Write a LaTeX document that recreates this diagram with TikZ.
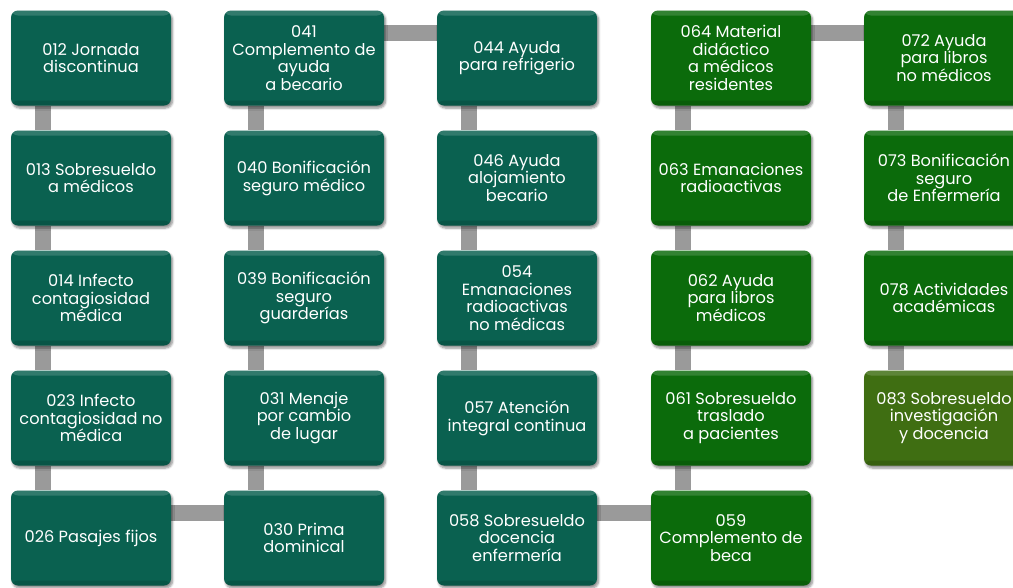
\documentclass[tikz,border=0pt]{standalone}
\usepackage{fontspec}
\setmainfont{Poppins}
\usetikzlibrary{shadows.blur,backgrounds}
\definecolor{teal1}{HTML}{0A6150}
\definecolor{green1}{HTML}{0B6B0B}
\definecolor{olive1}{HTML}{3F6E12}
\definecolor{conn1}{HTML}{9A9A9A}
\tikzset{
  box/.style={rounded corners=7pt, minimum width=160pt, minimum height=95pt,
    text=white, align=center, inner sep=1pt,
    font=\fontsize{16.2}{17.6}\selectfont,
    blur shadow={shadow xshift=1.5pt, shadow yshift=-2.5pt, shadow blur steps=6, shadow opacity=45},
    path picture={
      \fill[white, opacity=0.16] (path picture bounding box.north west) rectangle ([yshift=-5pt]path picture bounding box.north east);
      \fill[black, opacity=0.12] (path picture bounding box.south west) rectangle ([yshift=5pt]path picture bounding box.south east);
    }},
  tbox/.style={box, fill=teal1},
  gbox/.style={box, fill=green1},
  obox/.style={box, fill=olive1},
  conn/.style={draw=conn1, line width=16pt},
}
\begin{document}
\begin{tikzpicture}[x=1pt,y=-1pt]
\useasboundingbox (0,0) rectangle (1013,587);
% column 1
\node[tbox] (n012) at (91,58) {012 Jornada\\discontinua};
\node[tbox] (n013) at (91,178) {013 Sobresueldo\\a médicos};
\node[tbox] (n014) at (91,298) {014 Infecto\\contagiosidad\\médica};
\node[tbox] (n023) at (91,418) {023 Infecto\\contagiosidad no\\médica};
\node[tbox] (n026) at (91,538) {026 Pasajes fijos};
% column 2
\node[tbox] (n041) at (304,58) {041\\Complemento de\\ayuda\\a becario};
\node[tbox] (n040) at (304,178) {040 Bonificación\\seguro médico};
\node[tbox] (n039) at (304,298) {039 Bonificación\\seguro\\guarderías};
\node[tbox] (n031) at (304,418) {031 Menaje\\por cambio\\de lugar};
\node[tbox] (n030) at (304,538) {030 Prima\\dominical};
% column 3
\node[tbox] (n044) at (517,58) {044 Ayuda\\para refrigerio};
\node[tbox] (n046) at (517,178) {046 Ayuda\\alojamiento\\becario};
\node[tbox] (n054) at (517,298) {054\\Emanaciones\\radioactivas\\no médicas};
\node[tbox] (n057) at (517,418) {057 Atención\\integral continua};
\node[tbox] (n058) at (517,538) {058 Sobresueldo\\docencia\\enfermería};
% column 4
\node[gbox] (n064) at (731,58) {064 Material\\didáctico\\a médicos\\residentes};
\node[gbox] (n063) at (731,178) {063 Emanaciones\\radioactivas};
\node[gbox] (n062) at (731,298) {062 Ayuda\\para libros\\médicos};
\node[gbox] (n061) at (731,418) {061 Sobresueldo\\traslado\\a pacientes};
\node[gbox] (n059) at (731,538) {059\\Complemento de\\beca};
% column 5
\node[gbox] (n072) at (944,58) {072 Ayuda\\para libros\\no médicos};
\node[gbox] (n073) at (944,178) {073 Bonificación\\seguro\\de Enfermería};
\node[gbox] (n078) at (944,298) {078 Actividades\\académicas};
\node[obox] (n083) at (944,418) {083 Sobresueldo\\investigación\\y docencia};
% connectors (behind)
\begin{scope}[on background layer]
\foreach \a/\b in {n012/n013,n013/n014,n014/n023,n023/n026,
                   n041/n040,n040/n039,n039/n031,n031/n030,
                   n044/n046,n046/n054,n054/n057,n057/n058,
                   n064/n063,n063/n062,n062/n061,n061/n059,
                   n072/n073,n073/n078,n078/n083}
  \draw[conn] ([xshift=32pt]\a.south west) -- ([xshift=32pt]\b.north west);
\foreach \a/\b in {n026/n030,n041/n044,n058/n059,n064/n072}
  \draw[conn] ([yshift=-23pt]\a.north east) -- ([yshift=-23pt]\b.north west);
\end{scope}
\end{tikzpicture}
\end{document}
